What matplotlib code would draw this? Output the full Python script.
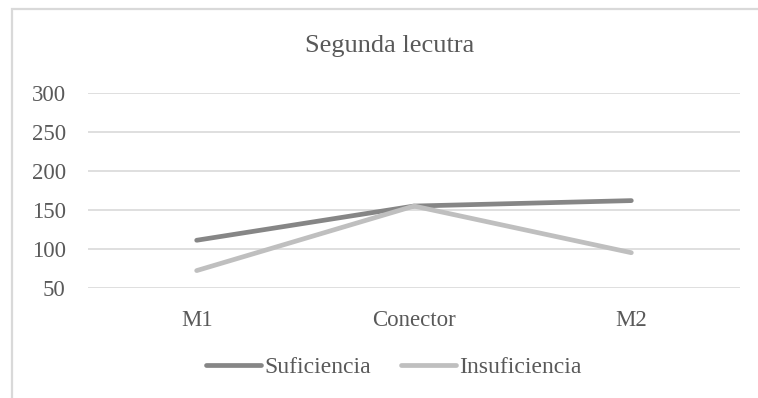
import matplotlib.pyplot as plt
from matplotlib.patches import Rectangle

categorias = ["M1", "Conector", "M2"]
suficiencia = [111, 155, 162]
insuficiencia = [72, 155, 95]

plt.rcParams['font.family'] = ['Liberation Serif', 'DejaVu Serif']

fig = plt.figure(figsize=(7.58, 3.98), dpi=100)
ax = fig.add_axes([88/758, 1 - 287.7/398, (740-88)/758, (287.7-93.3)/398])

# marco del gráfico (recortado a la derecha y abajo)
fig.patches.append(Rectangle((12/758, -0.05), 1.2, 1 - 9/398 + 0.05,
                             transform=fig.transFigure, fill=False,
                             edgecolor='#d9d9d9', linewidth=1.6))

x = range(len(categorias))
ax.plot(x, suficiencia, color='#868686', linewidth=3.4, solid_capstyle='round',
        solid_joinstyle='round', label='Suficiencia', zorder=3)
ax.plot(x, insuficiencia, color='#bfbfbf', linewidth=3.4, solid_capstyle='round',
        solid_joinstyle='round', label='Insuficiencia', zorder=3)

ax.set_xlim(-0.5, 2.5)
ax.set_ylim(50, 300)
ax.set_yticks([50, 100, 150, 200, 250, 300])
ax.set_xticks(list(x))
ax.set_xticklabels(categorias)
ax.yaxis.grid(True, color='#d9d9d9', linewidth=1.2)
ax.set_axisbelow(True)
for s in ax.spines.values():
    s.set_visible(False)
ax.tick_params(length=0, labelsize=16.5, colors='#595959')
ax.tick_params(axis='y', pad=16)
ax.tick_params(axis='x', pad=16)

fig.text(390/758, 1 - 46/398, "Segunda lecutra", ha='center', va='center',
         fontsize=19, color='#595959')

fig.legend(loc='center', bbox_to_anchor=(394/758, 1 - 367/398), ncol=2,
           frameon=False, fontsize=17, handlelength=2.3, handletextpad=0.15,
           columnspacing=1.3, labelcolor='#595959')

fig.savefig("out.png", dpi=100, facecolor='white')
